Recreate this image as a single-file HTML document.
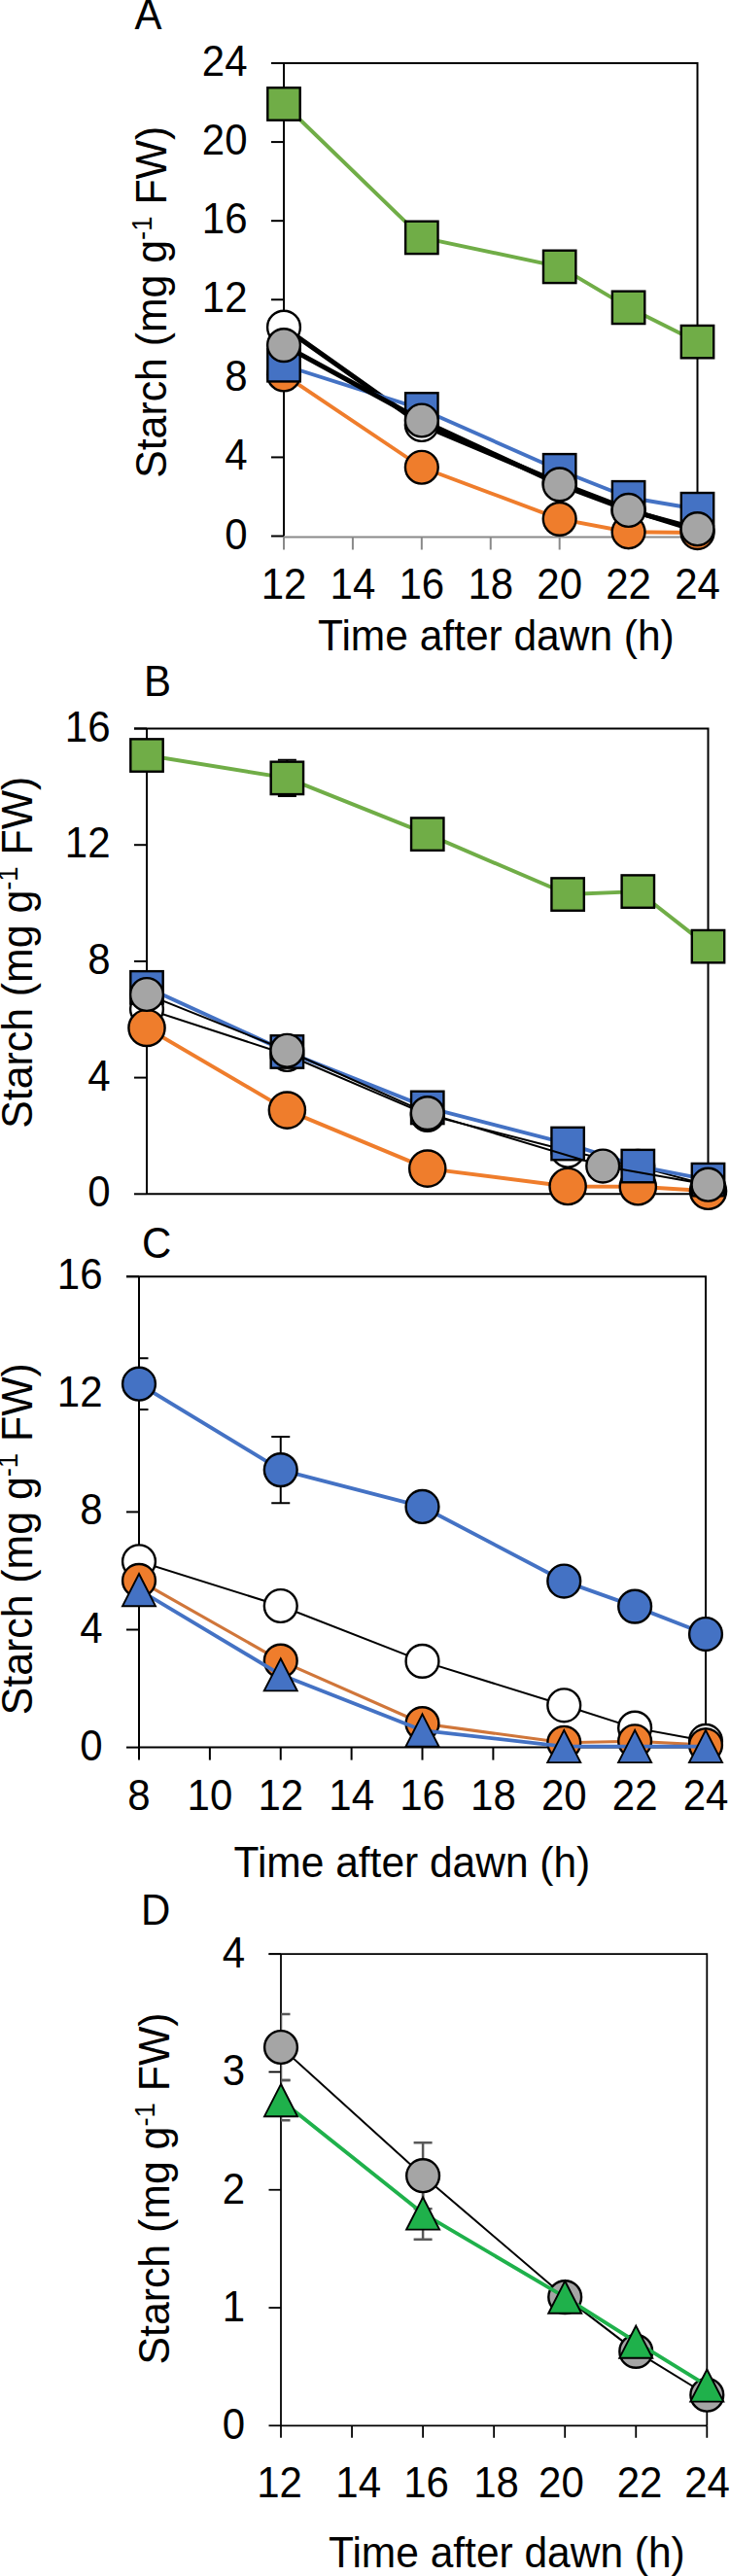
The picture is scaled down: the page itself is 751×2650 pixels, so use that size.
<!DOCTYPE html>
<html><head><meta charset="utf-8"><title>Starch</title>
<style>html,body{margin:0;padding:0;background:#fff;}body{width:751px;height:2650px;overflow:hidden;font-family:"Liberation Sans",sans-serif;}svg{display:block;}</style>
</head><body>
<svg width="751" height="2650" viewBox="0 0 751 2650">
<rect width="751" height="2650" fill="#fff"/>
<clipPath id="ca"><rect x="292" y="25" width="465.5" height="566.5"/></clipPath>
<g stroke="#000" stroke-width="2" fill="none">
<path d="M279,65 H717.5 V551.5"/>
<path d="M292,65 V551.5"/>
<path d="M279,551.5 H292"/>
<path d="M279,470.42 H292"/>
<path d="M279,389.33 H292"/>
<path d="M279,308.25 H292"/>
<path d="M279,227.17 H292"/>
<path d="M279,146.08 H292"/>
<path d="M279,65 H292"/>
</g>
<g stroke="#898989" stroke-width="2" fill="none">
<path d="M292,552.5 H717.5"/>
<path d="M292,552.5 V565.5"/>
<path d="M362.92,552.5 V565.5"/>
<path d="M433.83,552.5 V565.5"/>
<path d="M504.75,552.5 V565.5"/>
<path d="M575.67,552.5 V565.5"/>
<path d="M646.58,552.5 V565.5"/>
<path d="M717.5,552.5 V565.5"/>
</g>
<path clip-path="url(#ca)" d="M292,336.63 L433.83,436.97 L575.67,496.77 L646.58,524.13 L717.5,546.03" fill="none" stroke="#000" stroke-width="5" stroke-linejoin="round"/>
<circle cx="292" cy="336.63" r="16.9" fill="#fff" stroke="#000" stroke-width="2.4"/>
<circle cx="433.83" cy="436.97" r="16.9" fill="#fff" stroke="#000" stroke-width="2.4"/>
<circle cx="575.67" cy="496.77" r="16.9" fill="#fff" stroke="#000" stroke-width="2.4"/>
<circle cx="646.58" cy="524.13" r="16.9" fill="#fff" stroke="#000" stroke-width="2.4"/>
<circle cx="717.5" cy="546.03" r="16.9" fill="#fff" stroke="#000" stroke-width="2.4"/>
<path clip-path="url(#ca)" d="M292,385.48 L433.83,480.75 L575.67,533.86 L646.58,547.24 L717.5,548.05" fill="none" stroke="#EF7D2C" stroke-width="3.9" stroke-linejoin="round"/>
<circle cx="292" cy="385.48" r="16.9" fill="#EF7D2C" stroke="#000" stroke-width="2.4"/>
<circle cx="433.83" cy="480.75" r="16.9" fill="#EF7D2C" stroke="#000" stroke-width="2.4"/>
<circle cx="575.67" cy="533.86" r="16.9" fill="#EF7D2C" stroke="#000" stroke-width="2.4"/>
<circle cx="646.58" cy="547.24" r="16.9" fill="#EF7D2C" stroke="#000" stroke-width="2.4"/>
<circle cx="717.5" cy="548.05" r="16.9" fill="#EF7D2C" stroke="#000" stroke-width="2.4"/>
<path clip-path="url(#ca)" d="M292,375.75 L433.83,420.96 L575.67,483.8 L646.58,511.77 L717.5,523.73" fill="none" stroke="#4472C4" stroke-width="3.9" stroke-linejoin="round"/>
<rect x="275.3" y="359.05" width="33.4" height="33.4" fill="#4472C4" stroke="#000" stroke-width="2.4"/>
<rect x="417.13" y="404.26" width="33.4" height="33.4" fill="#4472C4" stroke="#000" stroke-width="2.4"/>
<rect x="558.97" y="467.1" width="33.4" height="33.4" fill="#4472C4" stroke="#000" stroke-width="2.4"/>
<rect x="629.88" y="495.07" width="33.4" height="33.4" fill="#4472C4" stroke="#000" stroke-width="2.4"/>
<rect x="700.8" y="507.03" width="33.4" height="33.4" fill="#4472C4" stroke="#000" stroke-width="2.4"/>
<path clip-path="url(#ca)" d="M292,355.08 L433.83,432.51 L575.67,498.39 L646.58,524.95 L717.5,544.2" fill="none" stroke="#000" stroke-width="5" stroke-linejoin="round"/>
<circle cx="292" cy="355.08" r="16.9" fill="#A5A5A5" stroke="#000" stroke-width="2.4"/>
<circle cx="433.83" cy="432.51" r="16.9" fill="#A5A5A5" stroke="#000" stroke-width="2.4"/>
<circle cx="575.67" cy="498.39" r="16.9" fill="#A5A5A5" stroke="#000" stroke-width="2.4"/>
<circle cx="646.58" cy="524.95" r="16.9" fill="#A5A5A5" stroke="#000" stroke-width="2.4"/>
<circle cx="717.5" cy="544.2" r="16.9" fill="#A5A5A5" stroke="#000" stroke-width="2.4"/>
<path clip-path="url(#ca)" d="M292,106.96 L433.83,244.4 L575.67,274.4 L646.58,316.36 L717.5,351.63" fill="none" stroke="#70AD47" stroke-width="3.9" stroke-linejoin="round"/>
<rect x="275.3" y="90.26" width="33.4" height="33.4" fill="#70AD47" stroke="#000" stroke-width="2.4"/>
<rect x="417.13" y="227.7" width="33.4" height="33.4" fill="#70AD47" stroke="#000" stroke-width="2.4"/>
<rect x="558.97" y="257.7" width="33.4" height="33.4" fill="#70AD47" stroke="#000" stroke-width="2.4"/>
<rect x="629.88" y="299.66" width="33.4" height="33.4" fill="#70AD47" stroke="#000" stroke-width="2.4"/>
<rect x="700.8" y="334.93" width="33.4" height="33.4" fill="#70AD47" stroke="#000" stroke-width="2.4"/>
<text transform="translate(254.5,564.5) scale(1,1.045)" text-anchor="end" font-family="'Liberation Sans', sans-serif" font-size="42">0</text>
<text transform="translate(254.5,483.42) scale(1,1.045)" text-anchor="end" font-family="'Liberation Sans', sans-serif" font-size="42">4</text>
<text transform="translate(254.5,402.33) scale(1,1.045)" text-anchor="end" font-family="'Liberation Sans', sans-serif" font-size="42">8</text>
<text transform="translate(254.5,321.25) scale(1,1.045)" text-anchor="end" font-family="'Liberation Sans', sans-serif" font-size="42">12</text>
<text transform="translate(254.5,240.17) scale(1,1.045)" text-anchor="end" font-family="'Liberation Sans', sans-serif" font-size="42">16</text>
<text transform="translate(254.5,159.08) scale(1,1.045)" text-anchor="end" font-family="'Liberation Sans', sans-serif" font-size="42">20</text>
<text transform="translate(254.5,78) scale(1,1.045)" text-anchor="end" font-family="'Liberation Sans', sans-serif" font-size="42">24</text>
<text transform="translate(292,616.2) scale(1,1.045)" text-anchor="middle" font-family="'Liberation Sans', sans-serif" font-size="42">12</text>
<text transform="translate(362.92,616.2) scale(1,1.045)" text-anchor="middle" font-family="'Liberation Sans', sans-serif" font-size="42">14</text>
<text transform="translate(433.84,616.2) scale(1,1.045)" text-anchor="middle" font-family="'Liberation Sans', sans-serif" font-size="42">16</text>
<text transform="translate(504.76,616.2) scale(1,1.045)" text-anchor="middle" font-family="'Liberation Sans', sans-serif" font-size="42">18</text>
<text transform="translate(575.68,616.2) scale(1,1.045)" text-anchor="middle" font-family="'Liberation Sans', sans-serif" font-size="42">20</text>
<text transform="translate(646.6,616.2) scale(1,1.045)" text-anchor="middle" font-family="'Liberation Sans', sans-serif" font-size="42">22</text>
<text transform="translate(717.52,616.2) scale(1,1.045)" text-anchor="middle" font-family="'Liberation Sans', sans-serif" font-size="42">24</text>
<text transform="translate(138.5,30.2) scale(1,1.045)" font-family="'Liberation Sans', sans-serif" font-size="42">A</text>
<text transform="translate(327,668.5) scale(1,1.045)" font-family="'Liberation Sans', sans-serif" font-size="42.5">Time after dawn (h)</text>
<text transform="translate(171.3,310.8) rotate(-90) scale(1,1.045)" text-anchor="middle" font-family="'Liberation Sans', sans-serif" font-size="42.8">Starch (mg g<tspan font-size="27.5" dy="-14.5">-1</tspan><tspan dy="14.5"> FW)</tspan></text>
<clipPath id="cb"><rect x="151" y="709.5" width="617.5" height="558.8"/></clipPath>
<g stroke="#000" stroke-width="2" fill="none">
<path d="M138,749.5 H728.5 V1228.3"/>
<path d="M151,749.5 V1228.3"/>
<path d="M138,1228.3 H151"/>
<path d="M138,1108.6 H151"/>
<path d="M138,988.9 H151"/>
<path d="M138,869.2 H151"/>
<path d="M138,749.5 H151"/>
</g>
<g stroke="#000" stroke-width="2" fill="none">
<path d="M151,1228.3 H728.5"/>
</g>
<g clip-path="url(#cb)" stroke="#000" stroke-width="2" fill="none">
<path d="M295.38,781.82 V818.93 M285.88,781.82 H304.88 M285.88,818.93 H304.88"/>
</g>
<path clip-path="url(#cb)" d="M151,1037.98 L295.38,1084.96 L439.75,1146.9 L584.12,1183.71 L656.31,1199.87 L728.5,1219.32" fill="none" stroke="#000" stroke-width="2" stroke-linejoin="round"/>
<circle cx="151" cy="1037.98" r="16.9" fill="#fff" stroke="#000" stroke-width="2.4"/>
<circle cx="295.38" cy="1084.96" r="16.9" fill="#fff" stroke="#000" stroke-width="2.4"/>
<circle cx="439.75" cy="1146.9" r="16.9" fill="#fff" stroke="#000" stroke-width="2.4"/>
<circle cx="584.12" cy="1183.71" r="16.9" fill="#fff" stroke="#000" stroke-width="2.4"/>
<circle cx="656.31" cy="1199.87" r="16.9" fill="#fff" stroke="#000" stroke-width="2.4"/>
<circle cx="728.5" cy="1219.32" r="16.9" fill="#fff" stroke="#000" stroke-width="2.4"/>
<path clip-path="url(#cb)" d="M151,1057.43 L295.38,1142.12 L439.75,1202.12 L584.12,1220.52 L656.31,1220.82 L728.5,1225.31" fill="none" stroke="#EF7D2C" stroke-width="3.9" stroke-linejoin="round"/>
<circle cx="151" cy="1057.43" r="18.6" fill="#EF7D2C" stroke="#000" stroke-width="2.4"/>
<circle cx="295.38" cy="1142.12" r="18.6" fill="#EF7D2C" stroke="#000" stroke-width="2.4"/>
<circle cx="439.75" cy="1202.12" r="18.6" fill="#EF7D2C" stroke="#000" stroke-width="2.4"/>
<circle cx="584.12" cy="1220.52" r="18.6" fill="#EF7D2C" stroke="#000" stroke-width="2.4"/>
<circle cx="656.31" cy="1220.82" r="18.6" fill="#EF7D2C" stroke="#000" stroke-width="2.4"/>
<circle cx="728.5" cy="1225.31" r="18.6" fill="#EF7D2C" stroke="#000" stroke-width="2.4"/>
<path clip-path="url(#cb)" d="M151,1015.83 L295.38,1081.97 L439.75,1139.42 L584.12,1176.53 L656.31,1199.57 L728.5,1213.64" fill="none" stroke="#4472C4" stroke-width="3.9" stroke-linejoin="round"/>
<rect x="134.3" y="999.13" width="33.4" height="33.4" fill="#4472C4" stroke="#000" stroke-width="2.4"/>
<rect x="278.68" y="1065.27" width="33.4" height="33.4" fill="#4472C4" stroke="#000" stroke-width="2.4"/>
<rect x="423.05" y="1122.72" width="33.4" height="33.4" fill="#4472C4" stroke="#000" stroke-width="2.4"/>
<rect x="567.42" y="1159.83" width="33.4" height="33.4" fill="#4472C4" stroke="#000" stroke-width="2.4"/>
<rect x="639.61" y="1182.87" width="33.4" height="33.4" fill="#4472C4" stroke="#000" stroke-width="2.4"/>
<rect x="711.8" y="1196.94" width="33.4" height="33.4" fill="#4472C4" stroke="#000" stroke-width="2.4"/>
<path clip-path="url(#cb)" d="M151,1023.01 L295.38,1080.77 L439.75,1145.11 L620.22,1199.57 L728.5,1218.72" fill="none" stroke="#000" stroke-width="2" stroke-linejoin="round"/>
<circle cx="151" cy="1023.01" r="16.9" fill="#A5A5A5" stroke="#000" stroke-width="2.4"/>
<circle cx="295.38" cy="1080.77" r="16.9" fill="#A5A5A5" stroke="#000" stroke-width="2.4"/>
<circle cx="439.75" cy="1145.11" r="16.9" fill="#A5A5A5" stroke="#000" stroke-width="2.4"/>
<circle cx="620.22" cy="1199.57" r="16.9" fill="#A5A5A5" stroke="#000" stroke-width="2.4"/>
<circle cx="728.5" cy="1218.72" r="16.9" fill="#A5A5A5" stroke="#000" stroke-width="2.4"/>
<path clip-path="url(#cb)" d="M151,777.03 L295.38,800.37 L439.75,858.13 L584.12,920.07 L656.31,917.08 L728.5,973.64" fill="none" stroke="#70AD47" stroke-width="3.9" stroke-linejoin="round"/>
<rect x="134.3" y="760.33" width="33.4" height="33.4" fill="#70AD47" stroke="#000" stroke-width="2.4"/>
<rect x="278.68" y="783.67" width="33.4" height="33.4" fill="#70AD47" stroke="#000" stroke-width="2.4"/>
<rect x="423.05" y="841.43" width="33.4" height="33.4" fill="#70AD47" stroke="#000" stroke-width="2.4"/>
<rect x="567.42" y="903.37" width="33.4" height="33.4" fill="#70AD47" stroke="#000" stroke-width="2.4"/>
<rect x="639.61" y="900.38" width="33.4" height="33.4" fill="#70AD47" stroke="#000" stroke-width="2.4"/>
<rect x="711.8" y="956.94" width="33.4" height="33.4" fill="#70AD47" stroke="#000" stroke-width="2.4"/>
<text transform="translate(113.5,1241.3) scale(1,1.045)" text-anchor="end" font-family="'Liberation Sans', sans-serif" font-size="42">0</text>
<text transform="translate(113.5,1121.6) scale(1,1.045)" text-anchor="end" font-family="'Liberation Sans', sans-serif" font-size="42">4</text>
<text transform="translate(113.5,1001.9) scale(1,1.045)" text-anchor="end" font-family="'Liberation Sans', sans-serif" font-size="42">8</text>
<text transform="translate(113.5,882.2) scale(1,1.045)" text-anchor="end" font-family="'Liberation Sans', sans-serif" font-size="42">12</text>
<text transform="translate(113.5,762.5) scale(1,1.045)" text-anchor="end" font-family="'Liberation Sans', sans-serif" font-size="42">16</text>
<text transform="translate(148,715.5) scale(1,1.045)" font-family="'Liberation Sans', sans-serif" font-size="42">B</text>
<text transform="translate(32.9,979.7) rotate(-90) scale(1,1.045)" text-anchor="middle" font-family="'Liberation Sans', sans-serif" font-size="42.8">Starch (mg g<tspan font-size="27.5" dy="-14.5">-1</tspan><tspan dy="14.5"> FW)</tspan></text>
<clipPath id="cc"><rect x="143" y="1273.2" width="623" height="564.4"/></clipPath>
<g stroke="#000" stroke-width="2" fill="none">
<path d="M130,1313.2 H726 V1797.6"/>
<path d="M143,1313.2 V1797.6"/>
<path d="M130,1797.6 H143"/>
<path d="M130,1676.5 H143"/>
<path d="M130,1555.4 H143"/>
<path d="M130,1434.3 H143"/>
<path d="M130,1313.2 H143"/>
</g>
<g stroke="#000" stroke-width="2" fill="none">
<path d="M143,1797.6 H726"/>
<path d="M143,1797.6 V1810.6"/>
<path d="M215.88,1797.6 V1810.6"/>
<path d="M288.75,1797.6 V1810.6"/>
<path d="M361.62,1797.6 V1810.6"/>
<path d="M434.5,1797.6 V1810.6"/>
<path d="M507.38,1797.6 V1810.6"/>
<path d="M580.25,1797.6 V1810.6"/>
<path d="M653.12,1797.6 V1810.6"/>
<path d="M726,1797.6 V1810.6"/>
</g>
<g clip-path="url(#cc)" stroke="#000" stroke-width="2" fill="none">
<path d="M143,1397.36 V1450.04 M133.5,1397.36 H152.5 M133.5,1450.04 H152.5"/>
</g>
<g clip-path="url(#cc)" stroke="#000" stroke-width="2" fill="none">
<path d="M288.75,1477.9 V1546.32 M279.25,1477.9 H298.25 M279.25,1546.32 H298.25"/>
</g>
<path clip-path="url(#cc)" d="M143,1423.7 L288.75,1512.11 L434.5,1549.95 L580.25,1626.55 L653.12,1652.58 L726,1681.04" fill="none" stroke="#4472C4" stroke-width="3.9" stroke-linejoin="round"/>
<circle cx="143" cy="1423.7" r="16.9" fill="#4472C4" stroke="#000" stroke-width="2.4"/>
<circle cx="288.75" cy="1512.11" r="16.9" fill="#4472C4" stroke="#000" stroke-width="2.4"/>
<circle cx="434.5" cy="1549.95" r="16.9" fill="#4472C4" stroke="#000" stroke-width="2.4"/>
<circle cx="580.25" cy="1626.55" r="16.9" fill="#4472C4" stroke="#000" stroke-width="2.4"/>
<circle cx="653.12" cy="1652.58" r="16.9" fill="#4472C4" stroke="#000" stroke-width="2.4"/>
<circle cx="726" cy="1681.04" r="16.9" fill="#4472C4" stroke="#000" stroke-width="2.4"/>
<path clip-path="url(#cc)" d="M143,1606.26 L288.75,1651.98 L434.5,1708.89 L580.25,1754.31 L653.12,1777.62 L726,1790.94" fill="none" stroke="#000" stroke-width="2" stroke-linejoin="round"/>
<circle cx="143" cy="1606.26" r="16.9" fill="#fff" stroke="#000" stroke-width="2.4"/>
<circle cx="288.75" cy="1651.98" r="16.9" fill="#fff" stroke="#000" stroke-width="2.4"/>
<circle cx="434.5" cy="1708.89" r="16.9" fill="#fff" stroke="#000" stroke-width="2.4"/>
<circle cx="580.25" cy="1754.31" r="16.9" fill="#fff" stroke="#000" stroke-width="2.4"/>
<circle cx="653.12" cy="1777.62" r="16.9" fill="#fff" stroke="#000" stroke-width="2.4"/>
<circle cx="726" cy="1790.94" r="16.9" fill="#fff" stroke="#000" stroke-width="2.4"/>
<path clip-path="url(#cc)" d="M143,1625.94 L288.75,1708.59 L434.5,1773.08 L580.25,1792.76 L653.12,1791.24 L726,1795.18" fill="none" stroke="#D0763A" stroke-width="3.2" stroke-linejoin="round"/>
<circle cx="143" cy="1625.94" r="16.9" fill="#EF7D2C" stroke="#000" stroke-width="2.4"/>
<circle cx="288.75" cy="1708.59" r="16.9" fill="#EF7D2C" stroke="#000" stroke-width="2.4"/>
<circle cx="434.5" cy="1773.08" r="16.9" fill="#EF7D2C" stroke="#000" stroke-width="2.4"/>
<circle cx="580.25" cy="1792.76" r="16.9" fill="#EF7D2C" stroke="#000" stroke-width="2.4"/>
<circle cx="653.12" cy="1791.24" r="16.9" fill="#EF7D2C" stroke="#000" stroke-width="2.4"/>
<circle cx="726" cy="1795.18" r="16.9" fill="#EF7D2C" stroke="#000" stroke-width="2.4"/>
<path clip-path="url(#cc)" d="M143,1635.63 L288.75,1722.82 L434.5,1780.04 L580.25,1796.54 L653.12,1796.54 L726,1796.54" fill="none" stroke="#4472C4" stroke-width="3.8" stroke-linejoin="round"/>
<path d="M143,1619.03 L160,1652.23 L126,1652.23 Z" fill="#4472C4" stroke="#000" stroke-width="1.9" stroke-linejoin="miter"/>
<path d="M288.75,1706.22 L305.75,1739.42 L271.75,1739.42 Z" fill="#4472C4" stroke="#000" stroke-width="1.9" stroke-linejoin="miter"/>
<path d="M434.5,1763.44 L451.5,1796.64 L417.5,1796.64 Z" fill="#4472C4" stroke="#000" stroke-width="1.9" stroke-linejoin="miter"/>
<path d="M580.25,1779.94 L597.25,1813.14 L563.25,1813.14 Z" fill="#4472C4" stroke="#000" stroke-width="1.9" stroke-linejoin="miter"/>
<path d="M653.12,1779.94 L670.12,1813.14 L636.12,1813.14 Z" fill="#4472C4" stroke="#000" stroke-width="1.9" stroke-linejoin="miter"/>
<path d="M726,1779.94 L743,1813.14 L709,1813.14 Z" fill="#4472C4" stroke="#000" stroke-width="1.9" stroke-linejoin="miter"/>
<text transform="translate(105.5,1810.6) scale(1,1.045)" text-anchor="end" font-family="'Liberation Sans', sans-serif" font-size="42">0</text>
<text transform="translate(105.5,1689.5) scale(1,1.045)" text-anchor="end" font-family="'Liberation Sans', sans-serif" font-size="42">4</text>
<text transform="translate(105.5,1568.4) scale(1,1.045)" text-anchor="end" font-family="'Liberation Sans', sans-serif" font-size="42">8</text>
<text transform="translate(105.5,1447.3) scale(1,1.045)" text-anchor="end" font-family="'Liberation Sans', sans-serif" font-size="42">12</text>
<text transform="translate(105.5,1326.2) scale(1,1.045)" text-anchor="end" font-family="'Liberation Sans', sans-serif" font-size="42">16</text>
<text transform="translate(143,1861.8) scale(1,1.045)" text-anchor="middle" font-family="'Liberation Sans', sans-serif" font-size="42">8</text>
<text transform="translate(215.88,1861.8) scale(1,1.045)" text-anchor="middle" font-family="'Liberation Sans', sans-serif" font-size="42">10</text>
<text transform="translate(288.76,1861.8) scale(1,1.045)" text-anchor="middle" font-family="'Liberation Sans', sans-serif" font-size="42">12</text>
<text transform="translate(361.64,1861.8) scale(1,1.045)" text-anchor="middle" font-family="'Liberation Sans', sans-serif" font-size="42">14</text>
<text transform="translate(434.52,1861.8) scale(1,1.045)" text-anchor="middle" font-family="'Liberation Sans', sans-serif" font-size="42">16</text>
<text transform="translate(507.4,1861.8) scale(1,1.045)" text-anchor="middle" font-family="'Liberation Sans', sans-serif" font-size="42">18</text>
<text transform="translate(580.28,1861.8) scale(1,1.045)" text-anchor="middle" font-family="'Liberation Sans', sans-serif" font-size="42">20</text>
<text transform="translate(653.16,1861.8) scale(1,1.045)" text-anchor="middle" font-family="'Liberation Sans', sans-serif" font-size="42">22</text>
<text transform="translate(726.04,1861.8) scale(1,1.045)" text-anchor="middle" font-family="'Liberation Sans', sans-serif" font-size="42">24</text>
<text transform="translate(146,1294.3) scale(1,1.045)" font-family="'Liberation Sans', sans-serif" font-size="42">C</text>
<text transform="translate(240.5,1930.7) scale(1,1.045)" font-family="'Liberation Sans', sans-serif" font-size="42.5">Time after dawn (h)</text>
<text transform="translate(32.9,1583.2) rotate(-90) scale(1,1.045)" text-anchor="middle" font-family="'Liberation Sans', sans-serif" font-size="42.8">Starch (mg g<tspan font-size="27.5" dy="-14.5">-1</tspan><tspan dy="14.5"> FW)</tspan></text>
<clipPath id="cd"><rect x="289" y="1970.2" width="478.3" height="565.1"/></clipPath>
<g stroke="#000" stroke-width="1.8" fill="none">
<path d="M276.5,2010.2 H727.3 V2495.3"/>
<path d="M289,2010.2 V2495.3"/>
<path d="M276.5,2495.3 H289"/>
<path d="M276.5,2374.03 H289"/>
<path d="M276.5,2252.75 H289"/>
<path d="M276.5,2131.47 H289"/>
<path d="M276.5,2010.2 H289"/>
</g>
<g stroke="#000" stroke-width="1.8" fill="none">
<path d="M289,2495.3 H727.3"/>
<path d="M289,2495.3 V2507.8"/>
<path d="M362.05,2495.3 V2507.8"/>
<path d="M435.1,2495.3 V2507.8"/>
<path d="M508.15,2495.3 V2507.8"/>
<path d="M581.2,2495.3 V2507.8"/>
<path d="M654.25,2495.3 V2507.8"/>
<path d="M727.3,2495.3 V2507.8"/>
</g>
<g clip-path="url(#cd)" stroke="#595959" stroke-width="2.5" fill="none">
<path d="M289,2072.05 V2139.96 M279.5,2072.05 H298.5 M279.5,2139.96 H298.5"/>
</g>
<g clip-path="url(#cd)" stroke="#595959" stroke-width="2.5" fill="none">
<path d="M435.1,2204.24 V2272.15 M425.6,2204.24 H444.6 M425.6,2272.15 H444.6"/>
</g>
<g clip-path="url(#cd)" stroke="#595959" stroke-width="2.5" fill="none">
<path d="M289,2139.96 V2181.2 M279.5,2139.96 H298.5 M279.5,2181.2 H298.5"/>
</g>
<g clip-path="url(#cd)" stroke="#595959" stroke-width="2.5" fill="none">
<path d="M435.1,2250.32 V2303.69 M425.6,2250.32 H444.6 M425.6,2303.69 H444.6"/>
</g>
<path clip-path="url(#cd)" d="M289,2106.01 L435.1,2238.2 L581.2,2363.11 L654.25,2418.9 L727.3,2463.77" fill="none" stroke="#000" stroke-width="2" stroke-linejoin="round"/>
<circle cx="289" cy="2106.01" r="16.9" fill="#A5A5A5" stroke="#000" stroke-width="2.4"/>
<circle cx="435.1" cy="2238.2" r="16.9" fill="#A5A5A5" stroke="#000" stroke-width="2.4"/>
<circle cx="581.2" cy="2363.11" r="16.9" fill="#A5A5A5" stroke="#000" stroke-width="2.4"/>
<circle cx="654.25" cy="2418.9" r="16.9" fill="#A5A5A5" stroke="#000" stroke-width="2.4"/>
<circle cx="727.3" cy="2463.77" r="16.9" fill="#A5A5A5" stroke="#000" stroke-width="2.4"/>
<path clip-path="url(#cd)" d="M289,2160.58 L435.1,2277.01 L581.2,2363.11 L654.25,2409.19 L727.3,2454.07" fill="none" stroke="#1FB14B" stroke-width="3.8" stroke-linejoin="round"/>
<path d="M289,2143.98 L306,2177.18 L272,2177.18 Z" fill="#1FB14B" stroke="#000" stroke-width="1.9" stroke-linejoin="miter"/>
<path d="M435.1,2260.41 L452.1,2293.61 L418.1,2293.61 Z" fill="#1FB14B" stroke="#000" stroke-width="1.9" stroke-linejoin="miter"/>
<path d="M581.2,2346.51 L598.2,2379.71 L564.2,2379.71 Z" fill="#1FB14B" stroke="#000" stroke-width="1.9" stroke-linejoin="miter"/>
<path d="M654.25,2392.59 L671.25,2425.79 L637.25,2425.79 Z" fill="#1FB14B" stroke="#000" stroke-width="1.9" stroke-linejoin="miter"/>
<path d="M727.3,2437.47 L744.3,2470.67 L710.3,2470.67 Z" fill="#1FB14B" stroke="#000" stroke-width="1.9" stroke-linejoin="miter"/>
<text transform="translate(252,2509.3) scale(1,1.045)" text-anchor="end" font-family="'Liberation Sans', sans-serif" font-size="42">0</text>
<text transform="translate(252,2388.03) scale(1,1.045)" text-anchor="end" font-family="'Liberation Sans', sans-serif" font-size="42">1</text>
<text transform="translate(252,2266.75) scale(1,1.045)" text-anchor="end" font-family="'Liberation Sans', sans-serif" font-size="42">2</text>
<text transform="translate(252,2145.47) scale(1,1.045)" text-anchor="end" font-family="'Liberation Sans', sans-serif" font-size="42">3</text>
<text transform="translate(252,2024.2) scale(1,1.045)" text-anchor="end" font-family="'Liberation Sans', sans-serif" font-size="42">4</text>
<text transform="translate(287.5,2568.5) scale(1,1.045)" text-anchor="middle" font-family="'Liberation Sans', sans-serif" font-size="42">12</text>
<text transform="translate(368.7,2568.5) scale(1,1.045)" text-anchor="middle" font-family="'Liberation Sans', sans-serif" font-size="42">14</text>
<text transform="translate(438.5,2568.5) scale(1,1.045)" text-anchor="middle" font-family="'Liberation Sans', sans-serif" font-size="42">16</text>
<text transform="translate(510.6,2568.5) scale(1,1.045)" text-anchor="middle" font-family="'Liberation Sans', sans-serif" font-size="42">18</text>
<text transform="translate(577.4,2568.5) scale(1,1.045)" text-anchor="middle" font-family="'Liberation Sans', sans-serif" font-size="42">20</text>
<text transform="translate(658,2568.5) scale(1,1.045)" text-anchor="middle" font-family="'Liberation Sans', sans-serif" font-size="42">22</text>
<text transform="translate(727.6,2568.5) scale(1,1.045)" text-anchor="middle" font-family="'Liberation Sans', sans-serif" font-size="42">24</text>
<text transform="translate(145,1979.5) scale(1,1.045)" font-family="'Liberation Sans', sans-serif" font-size="42">D</text>
<text transform="translate(338,2641) scale(1,1.045)" font-family="'Liberation Sans', sans-serif" font-size="42.5">Time after dawn (h)</text>
<text transform="translate(174.2,2251.5) rotate(-90) scale(1,1.045)" text-anchor="middle" font-family="'Liberation Sans', sans-serif" font-size="42.8">Starch (mg g<tspan font-size="27.5" dy="-14.5">-1</tspan><tspan dy="14.5"> FW)</tspan></text>
</svg>
</body></html>
